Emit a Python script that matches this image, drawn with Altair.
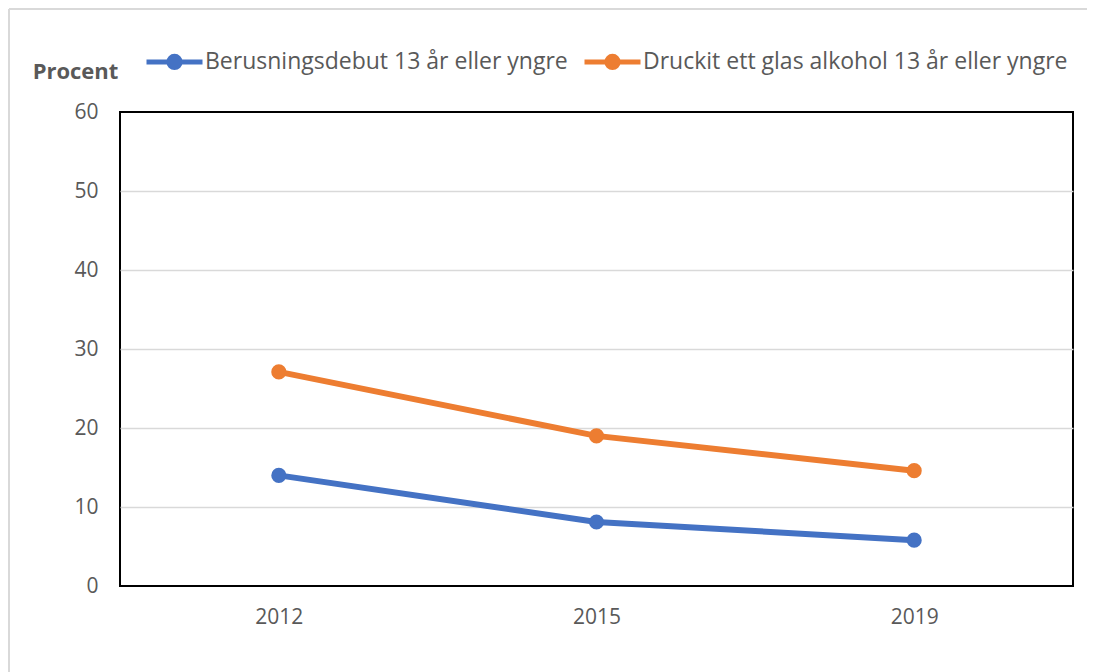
import altair as alt
import pandas as pd

years = ["2012", "2015", "2019"]
series_names = ["Berusningsdebut 13 år eller yngre", "Druckit ett glas alkohol 13 år eller yngre"]
berusning = [14.0, 8.1, 5.8]
druckit = [27.1, 19.0, 14.6]
colors = ["#4472C4", "#ED7D31"]
y_ticks = [0, 10, 20, 30, 40, 50, 60]

rows = []
for name, vals in zip(series_names, [berusning, druckit]):
    for yr, v in zip(years, vals):
        rows.append({"year": yr, "series": name, "value": v})
df = pd.DataFrame(rows)

FONT = "Open Sans"
GREY = "#595959"

legend_path = ("M-1,0L1,0"
               "M0.2,0A0.2,0.2,0,1,1,-0.2,0A0.2,0.2,0,1,1,0.2,0"
               "M0.08,0A0.08,0.08,0,1,1,-0.08,0A0.08,0.08,0,1,1,0.08,0")

x_enc = alt.X("year:N", sort=years,
              scale=alt.Scale(type="point", padding=0.5),
              axis=alt.Axis(title=None, labelAngle=0, ticks=False, domain=False,
                            labelPadding=20, labelFontSize=21, labelColor=GREY,
                            labelFont=FONT, grid=False))
y_enc = alt.Y("value:Q", scale=alt.Scale(domain=[0, 60], nice=False),
              axis=alt.Axis(values=y_ticks, title="Procent", titleAngle=0,
                            titleAlign="center", titleBaseline="middle",
                            titleX=-45, titleY=-41, titleFontSize=22,
                            titleFontWeight="bold", titleColor=GREY, titleFont=FONT,
                            ticks=False, domain=False, labelPadding=22,
                            labelFontSize=21, labelColor=GREY, labelFont=FONT,
                            gridColor={"condition": {"test": "datum.value == 0 || datum.value == 60",
                                                     "value": "transparent"},
                                       "value": "#d9d9d9"},
                            gridWidth=1.5))
color_enc = alt.Color("series:N", sort=series_names,
                      scale=alt.Scale(domain=series_names, range=colors),
                      legend=alt.Legend(title=None, orient="none", direction="horizontal",
                                        legendX=24, legendY=-81,
                                        symbolType=legend_path, symbolSize=3136,
                                        symbolStrokeWidth=5, labelFontSize=23,
                                        labelColor=GREY, labelFont=FONT, labelLimit=0,
                                        labelOffset=0, columnPadding=6))

lines = alt.Chart(df).mark_line(strokeWidth=6).encode(x=x_enc, y=y_enc, color=color_enc)
points = alt.Chart(df).mark_circle(size=230, opacity=1).encode(x=x_enc, y=y_enc, color=color_enc)

border_v = alt.Chart(df).mark_rule(color="#d9d9d9", strokeWidth=2).encode(
    x=alt.value(-111), y=alt.value(-103), y2=alt.value(570))
border_h = alt.Chart(df).mark_rule(color="#d9d9d9", strokeWidth=2).encode(
    x=alt.value(-111), x2=alt.value(985), y=alt.value(-103))

chart = alt.layer(border_v, border_h, lines, points).properties(
    width=953, height=474,
    autosize=alt.AutoSizeParams(type="none"),
    padding={"left": 112, "top": 104, "right": 14, "bottom": 86},
).configure_view(stroke="black", strokeWidth=2)

chart.save("out.html", embed_options={"renderer": "svg", "actions": False})
